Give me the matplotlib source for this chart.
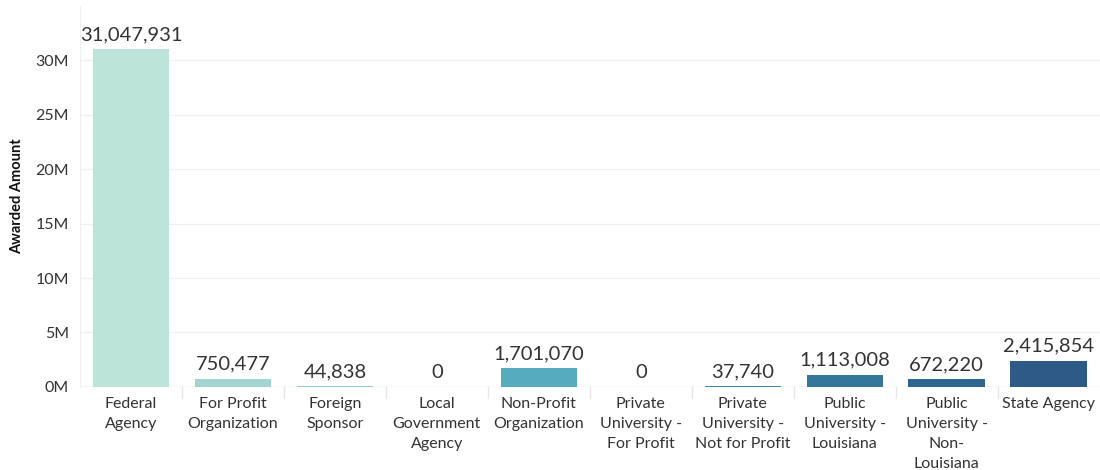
import numpy as np
import matplotlib.pyplot as plt

plt.rcParams["font.family"] = ["Lato", "DejaVu Sans"]

# ---------------------------------------------------------
# Data
# ---------------------------------------------------------

categories = [
    "Federal\nAgency",
    "For Profit\nOrganization",
    "Foreign\nSponsor",
    "Local\nGovernment\nAgency",
    "Non-Profit\nOrganization",
    "Private\nUniversity -\nFor Profit",
    "Private\nUniversity -\nNot for Profit",
    "Public\nUniversity -\nLouisiana",
    "Public\nUniversity -\nNon-\nLouisiana",
    "State Agency",
]

amounts = [31047931, 750477, 44838, 0, 1701070, 0, 37740, 1113008, 672220, 2415854]

colors = ["#bde4d9", "#a3d5d0", "#8ccac9", "#70bac5", "#56abbf",
          "#4a9bb5", "#3f8aab", "#33789b", "#2e6690", "#2d5a87"]

ytick_vals = [0, 5e6, 10e6, 15e6, 20e6, 25e6, 30e6]
ytick_labels = ["0M", "5M", "10M", "15M", "20M", "25M", "30M"]

# ---------------------------------------------------------
# Plot
# ---------------------------------------------------------

fig = plt.figure(figsize=(11, 4.7), dpi=100)
ax = fig.add_axes([0.0727, 0.177, 0.927, 0.81])

x = np.arange(len(categories))

ax.bar(x, amounts, width=0.75, color=colors, zorder=3)

for xi, v in zip(x, amounts):
    ax.text(xi, v + 0.55e6, f"{v:,}", ha="center", va="bottom",
            fontsize=14.5, color="#333333", zorder=4)

ax.set_xlim(-0.5, len(categories) - 0.5)
ax.set_ylim(0, 35e6)

ax.set_yticks(ytick_vals)
ax.set_yticklabels(ytick_labels, fontsize=11.5, color="#333333")
ax.set_xticks(x)
ax.set_xticklabels(categories, fontsize=11.5, color="#333333", linespacing=1.55)
ax.tick_params(axis="x", length=0, pad=7)
ax.tick_params(axis="y", length=0, pad=8)

# category separators below baseline
for b in np.arange(0.5, len(categories) - 1, 1.0):
    ax.plot([b, b], [0, -0.03], transform=ax.get_xaxis_transform(),
            color="#e6e6e6", lw=1, clip_on=False)

ax.grid(axis="y", color="#f0f0f0", lw=1, zorder=0)
ax.axhline(0, color="#e6e6e6", lw=1, zorder=2)

for s in ["top", "right", "bottom"]:
    ax.spines[s].set_visible(False)
ax.spines["left"].set_color("#f0f0f0")

ax.set_ylabel("Awarded Amount", fontsize=10.5, fontweight="bold",
              color="#111111", labelpad=8)

fig.savefig("out.png", dpi=100)
